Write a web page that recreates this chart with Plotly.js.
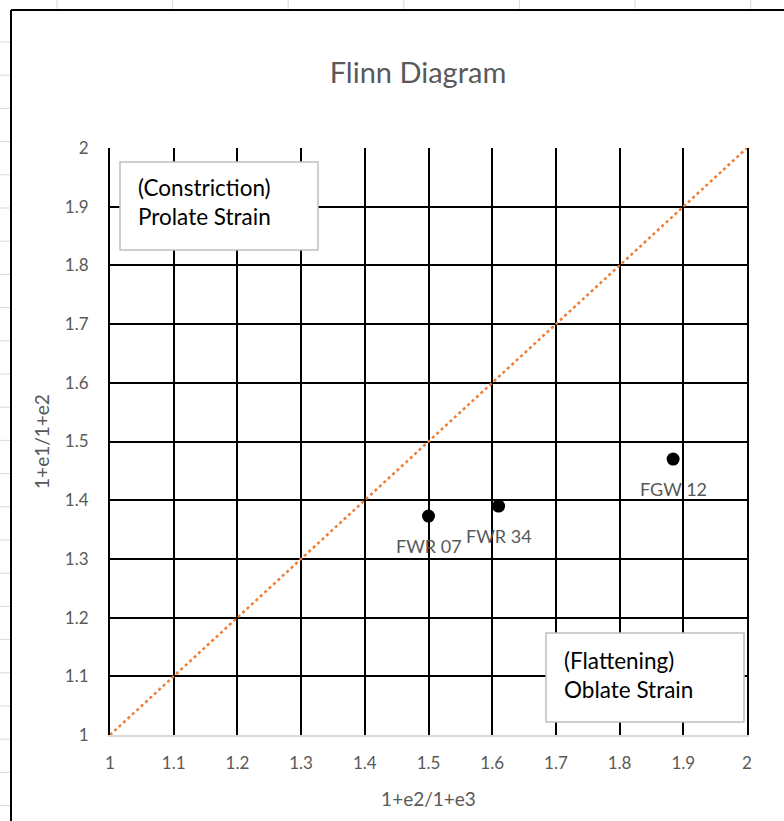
<!DOCTYPE html>
<html><head><meta charset="utf-8">
<script src="https://cdn.plot.ly/plotly-3.0.1.min.js"></script>
<style>body{margin:0;background:#fff}#chart{width:784px;height:821px}</style>
</head><body><div id="chart"></div>
<script>
const sampleNames = ["FWR 07", "FWR 34", "FGW 12"];
const xValues = [1.50, 1.61, 1.884];
const yValues = [1.373, 1.39, 1.47];
const refLineX = [1, 2];
const refLineY = [1, 2];
const tickVals = [1, 1.1, 1.2, 1.3, 1.4, 1.5, 1.6, 1.7, 1.8, 1.9, 2];

const W = 784, H = 821, L = 110, R = 37, T = 148, B = 86;
const pw = W - L - R, ph = H - T - B;
const px = v => (v - L) / pw;
const py = v => (H - B - v) / ph;

const font = "Lato, 'Open Sans', sans-serif";
const grey = "#595959";

const shapes = [];
// spreadsheet background cells
for (let k = 0; k < 24; k++) {
  const y = 42 + 33.2 * k;
  shapes.push({type:"line", xref:"paper", yref:"paper", x0:px(0), x1:px(10), y0:py(y), y1:py(y), line:{color:"#d9d9d9", width:1}, layer:"below"});
}
for (let k = 0; k < 7; k++) {
  const x = 57 + 115.6 * k;
  shapes.push({type:"line", xref:"paper", yref:"paper", x0:px(x), x1:px(x), y0:py(0), y1:py(9), line:{color:"#d9d9d9", width:1}, layer:"below"});
}
// chart border
shapes.push({type:"line", xref:"paper", yref:"paper", x0:px(11), x1:px(11), y0:py(10), y1:py(821), line:{color:"#000", width:2}});
shapes.push({type:"line", xref:"paper", yref:"paper", x0:px(11), x1:px(784), y0:py(10), y1:py(10), line:{color:"#000", width:2}});
// text boxes
shapes.push({type:"rect", xref:"paper", yref:"paper", x0:px(120), x1:px(318), y0:py(250), y1:py(162), line:{color:"#bfbfbf", width:1.5}, fillcolor:"#fff", layer:"above"});
shapes.push({type:"rect", xref:"paper", yref:"paper", x0:px(546), x1:px(744), y0:py(722), y1:py(633), line:{color:"#bfbfbf", width:1.5}, fillcolor:"#fff", layer:"above"});

const annotations = sampleNames.map((n, i) => ({
  x: xValues[i], y: yValues[i], text: n, showarrow: false,
  yshift: -30, font: {family: font, size: 18, color: grey}
}));
annotations.push({
  xref:"paper", yref:"paper", x:px(136), y:py(202), xanchor:"left", yanchor:"middle",
  text:"(Constriction)<br>Prolate Strain", showarrow:false, align:"left",
  font:{family:font, size:22.5, color:"#000"}
});
annotations.push({
  xref:"paper", yref:"paper", x:px(562), y:py(675), xanchor:"left", yanchor:"middle",
  text:"(Flattening)<br>Oblate Strain", showarrow:false, align:"left",
  font:{family:font, size:22.5, color:"#000"}
});

const traces = [
  {x: refLineX, y: refLineY, mode: "lines", line: {color: "#ED7D31", width: 2.5, dash: "dot"}, hoverinfo: "skip"},
  {x: xValues, y: yValues, mode: "markers", marker: {color: "#000", size: 13}, text: sampleNames}
];

const axisCommon = {
  range: [1, 2], tickvals: tickVals, showgrid: true, gridcolor: "#000", gridwidth: 2,
  zeroline: false, ticks: "", tickfont: {family: font, size: 17, color: grey},
  fixedrange: true
};

const layout = {
  width: W, height: H, margin: {l: L, r: R, t: T, b: B},
  paper_bgcolor: "#fff", plot_bgcolor: "#fff", showlegend: false,
  title: {text: "Flinn Diagram", x: 418 / W, xanchor: "center", y: 1 - 73 / H, yanchor: "middle",
          font: {family: font, size: 29, color: grey}},
  xaxis: Object.assign({}, axisCommon, {showline: true, linecolor: "#d9d9d9", linewidth: 1.5,
    ticklabelstandoff: 12,
    title: {text: "1+e2/1+e3", font: {family: font, size: 19, color: grey}, standoff: 21}}),
  yaxis: Object.assign({}, axisCommon, {showline: true, linecolor: "#000", linewidth: 2, mirror: true,
    ticklabelstandoff: 16,
    title: {text: "1+e1/1+e2", font: {family: font, size: 19, color: grey}, standoff: 10}}),
  shapes: shapes,
  annotations: annotations
};
Plotly.newPlot("chart", traces, layout, {displayModeBar: false, staticPlot: true});
</script></body></html>
